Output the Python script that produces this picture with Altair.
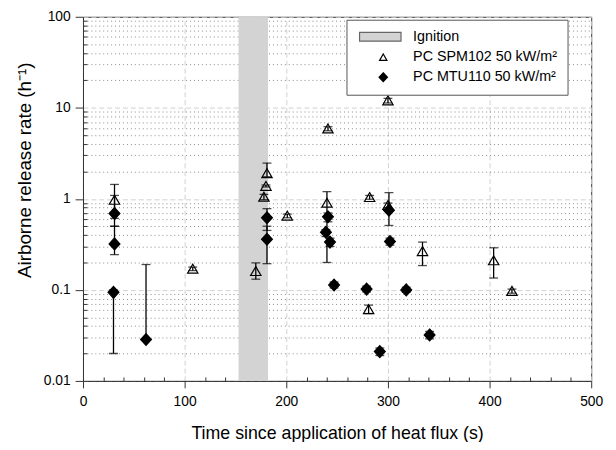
import altair as alt
import pandas as pd

# ---------------- data ----------------
series_names = ["Ignition", "PC SPM102 50 kW/m\u00b2", "PC MTU110 50 kW/m\u00b2"]

ignition_start = [153]
ignition_end = [182]

spm_t  = [31, 108, 170, 178, 180, 181, 201, 240, 241, 281, 282, 300, 300, 334, 404, 422]
spm_v  = [0.97, 0.17, 0.16, 1.05, 1.38, 1.90, 0.65, 0.90, 5.9, 0.061, 1.04, 12.0, 0.85, 0.265, 0.21, 0.097]
spm_lo = [0.61, 0.163, 0.131, 0.98, 1.35, 1.75, 0.62, 0.20, 5.6, 0.055, 0.99, 11.3, 0.80, 0.185, 0.135, 0.092]
spm_hi = [1.44, 0.178, 0.198, 1.12, 1.42, 2.47, 0.68, 1.20, 6.2, 0.068, 1.09, 12.7, 0.90, 0.335, 0.29, 0.102]

mtu_t  = [30, 31, 31, 62, 181, 181, 239, 241, 243, 247, 279, 292, 301, 302, 318, 341]
mtu_v  = [0.094, 0.32, 0.69, 0.0285, 0.36, 0.62, 0.43, 0.635, 0.335, 0.113, 0.102, 0.021, 0.75, 0.34, 0.10, 0.032]
mtu_lo = [0.020, 0.244, 0.50, 0.0285, 0.194, 0.45, 0.385, 0.56, 0.30, 0.105, 0.095, 0.019, 0.51, 0.31, 0.094, 0.029]
mtu_hi = [0.10, 0.50, 1.09, 0.19, 0.50, 0.78, 0.46, 0.70, 0.37, 0.122, 0.11, 0.023, 1.17, 0.37, 0.107, 0.035]

# axis tick values
x_major = [0, 100, 200, 300, 400, 500]
x_minor = [20, 40, 60, 80, 120, 140, 160, 180, 220, 240, 260, 280,
           320, 340, 360, 380, 420, 440, 460, 480]
y_major = [0.01, 0.1, 1, 10, 100]
y_minor_factors = [2, 3, 4, 5, 6, 7, 8, 9]
y_minor_decades = [0.01, 0.1, 1, 10]
y_minor = [round(f * d, 4) for d in y_minor_decades for f in y_minor_factors]

# ---------------- tables ----------------
pts = pd.DataFrame({
    "t": spm_t + mtu_t,
    "v": spm_v + mtu_v,
    "lo": spm_lo + mtu_lo,
    "hi": spm_hi + mtu_hi,
    "series": [series_names[1]] * len(spm_t) + [series_names[2]] * len(mtu_t),
})
band = pd.DataFrame({"start": ignition_start, "end": ignition_end})

FONT = "Liberation Sans"
xs = alt.Scale(domain=[0, 500], nice=False, zero=False)
ys = alt.Scale(type="log", domain=[0.01, 100], nice=False)

# custom symbol paths for the plotted points (unit = 5 px at size 100)
point_shapes = [
    "M-4,-0.8H4V0.8H-4Z",
    "M0,-0.95L1.05,0.85L-1.05,0.85Z",
    "M0,-1.2L1.1,0L0,1.2L-1.1,0Z",
]
# legend glyphs: wide swatch, markers centred on the swatch
legend_shapes = [
    "M-0.8,-0.9H7.6V0.9H-0.8Z",
    "M4,-0.7L4.75,0.6L3.25,0.6Z",
    "M4,-0.9L4.85,0L4,0.9L3.15,0Z",
]
fill_range = ["#d3d3d3", "transparent", "black"]
stroke_range = ["#666666", "black", "black"]

band_layer = alt.Chart(band).mark_rect(color="#d3d3d3").encode(
    x=alt.X("start:Q", scale=xs, axis=alt.Axis(
        orient="bottom", values=x_major, format="d", labelFlush=False,
        title="Time since application of heat flux (s)", titleFontSize=18,
        grid=True, gridDash=[5, 3], gridColor="#d0d0d0",
        tickSize=7, labelPadding=7, titleY=53, titleBaseline="middle",
    )),
    x2="end:Q",
)

rule_layer = alt.Chart(pts).mark_rule(color="black", strokeWidth=1.3).encode(
    x=alt.X("t:Q", scale=xs, axis=alt.Axis(
        orient="bottom", values=x_minor, labels=False, domain=False, grid=False,
        tickSize=alt.ExprRef(expr="-4"), title=None,
    )),
    y=alt.Y("lo:Q", scale=ys, axis=alt.Axis(
        orient="left", values=y_minor, labels=False, domain=False,
        grid=True, gridDash=[1, 3], gridColor="#8a8a8a",
        tickSize=alt.ExprRef(expr="-4"), title=None,
    )),
    y2="hi:Q",
)

cap_lo = alt.Chart(pts).mark_tick(orient="horizontal", size=9, thickness=1.3, color="black").encode(
    x=alt.X("t:Q", scale=xs, axis=None),
    y=alt.Y("lo:Q", scale=ys, axis=alt.Axis(
        orient="left", values=y_major, format="~g", labelFlush=False,
        title="Airborne release rate (h\u207b\u00b9)", titleFontSize=19,
        grid=True, gridDash=[5, 3], gridColor="#d0d0d0",
        tickSize=8, labelPadding=5,
        titleX=-59, titleY=155, titleBaseline="middle",
    )),
)

cap_hi = alt.Chart(pts).mark_tick(orient="horizontal", size=9, thickness=1.3, color="black").encode(
    x=alt.X("t:Q", scale=xs, axis=None),
    y=alt.Y("hi:Q", scale=ys, axis=None),
)

point_layer = alt.Chart(pts).mark_point(size=100, opacity=1, strokeWidth=1.2).encode(
    x=alt.X("t:Q", scale=xs, axis=None),
    y=alt.Y("v:Q", scale=ys, axis=None),
    shape=alt.Shape("series:N", scale=alt.Scale(domain=series_names, range=point_shapes), legend=None),
    fill=alt.Fill("series:N", scale=alt.Scale(domain=series_names, range=fill_range), legend=None),
    stroke=alt.Stroke("series:N", scale=alt.Scale(domain=series_names, range=stroke_range), legend=None),
)

legend = alt.Legend(
    orient="none", legendX=267, legendY=3, title=None,
    labelFont=FONT, labelFontSize=14.5, labelColor="black", labelLimit=400,
    symbolSize=100, labelOffset=43, padding=10, rowPadding=5,
    strokeColor="#555555", fillColor="white", symbolStrokeWidth=1.2,
)

# legend carrier: same series, no rows drawn (explicit domains keep all entries)
legend_layer = alt.Chart(pts).transform_filter("false").mark_point(
    size=100, opacity=1, strokeWidth=1.2
).encode(
    x=alt.X("t:Q", scale=xs, axis=None),
    y=alt.Y("v:Q", scale=ys, axis=None),
    shape=alt.Shape("series:N", scale=alt.Scale(domain=series_names, range=legend_shapes), legend=legend),
    fill=alt.Fill("series:N", scale=alt.Scale(domain=series_names, range=fill_range), legend=legend),
    stroke=alt.Stroke("series:N", scale=alt.Scale(domain=series_names, range=stroke_range), legend=legend),
)

chart = alt.layer(band_layer, rule_layer, cap_lo, cap_hi, point_layer, legend_layer).resolve_axis(
    x="independent", y="independent"
).resolve_scale(
    shape="independent", fill="independent", stroke="independent"
).properties(
    width=515, height=369,
    padding={"left": 76, "top": 6, "right": 17, "bottom": 59},
    autosize=alt.AutoSizeParams(type="none"),
).configure_view(
    stroke="#333333", strokeWidth=1,
).configure_axis(
    labelFont=FONT, titleFont=FONT, labelFontSize=14, titleFontSize=17,
    titleFontWeight="normal", labelColor="black", titleColor="black",
    tickColor="#333333", domainColor="#333333", tickWidth=1, domainWidth=1,
)

chart.save("out.html", embed_options={"renderer": "svg", "actions": False})
